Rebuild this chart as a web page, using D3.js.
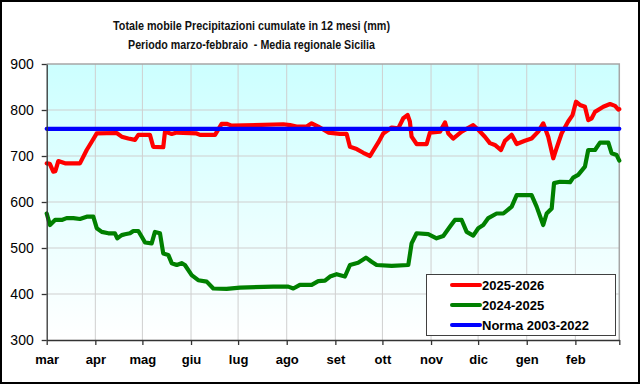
<!DOCTYPE html>
<html><head><meta charset="utf-8">
<script src="https://cdn.jsdelivr.net/npm/d3@7/dist/d3.min.js"></script>
<style>
html,body{margin:0;padding:0;background:#fff;}
svg{display:block;}
</style></head>
<body>
<svg id="chart" width="641" height="385"></svg>
<script>
// ---- data ----
const titleLines = ["Totale mobile Precipitazioni cumulate in 12 mesi (mm)", "Periodo marzo-febbraio  - Media regionale Sicilia"];
const monthLabels = ["mar","apr","mag","giu","lug","ago","set","ott","nov","dic","gen","feb",""];
const monthStartDays = [0,31,61,92,122,153,184,214,245,275,306,337,365];
const yTicks = [300,400,500,600,700,800,900];
const seriesNames = ["2025-2026","2024-2025","Norma 2003-2022"];
const seriesColors = ["#ff0000","#008000","#0000ff"];

const redDays = [0,2,4.2,5.5,7.4,11.7,21.2,25.5,28.7,31.9,44.6,47.8,52,56.3,58.4,65.8,67.9,74.3,75.4,79.7,82.9,95.6,97.7,107.3,111.5,114.7,117.9,150.8,155.1,159.3,165.7,168.9,173.1,179.5,186.9,191.2,193.3,197.6,201.8,206.1,208.2,211.3,214.5,219.9,224.1,227.3,230.1,231.5,232.6,235.8,242.2,244.3,250.7,253.9,256,259.1,264.5,271.9,275.1,279.3,282.5,285.7,289.6,292.1,296.4,299.6,304.8,309.1,313.3,316.5,319.7,322.9,324.6,328.2,332.4,335.2,337.4,339.9,343.1,345.2,347.4,349.5,354.8,359.1,362.3,364.4,365];
const redVals = [684,683,666,667,689,684,684,713,731,749,750,742,738,735,746,746,720,719,753,748,751,749,746,746,770,770,766,769,767,764,764,771,764,751,748,748,720,715,707,700,712,729,749,762,760,782,789,775,742,726,726,751,753,773,749,738,753,767,757,742,728,724,713,733,746,726,733,738,753,771,742,695,713,749,775,789,818,811,807,778,782,796,807,813,809,801,802];

const greenDays = [0,2.1,5.3,9.6,12.7,17,21.2,25.5,29.7,31.9,35.1,39.3,43.5,45,47.8,49.9,53.1,55.2,58.4,60.5,62.7,66.9,69,72.2,74.3,77.5,79.7,82.9,86,88.1,92.4,96.6,102,106.2,114.7,123.2,144.4,154,157.2,161.4,168.9,173.1,177.4,180.6,184.8,190.1,193.3,198.5,203.5,207.1,210.3,219.9,230.5,232.6,235.8,243.2,248.5,252.8,257,260.2,264.5,267.7,271.9,275.1,278.3,281.5,286.8,291.1,296.4,299.6,309.1,312.3,316.5,318.7,321.9,323.4,327.2,333.6,335.6,338.8,343.1,345.2,349.5,352.7,358,360.1,363.3,365];
const greenVals = [575,550,561,561,565,565,563,568,568,543,535,532,532,521,528,530,532,537,537,525,512,510,535,532,488,485,467,463,467,463,441,430,427,412,411,414,416,416,412,420,420,428,429,438,443,438,463,468,479,470,463,461,463,510,532,530,521,526,546,561,561,535,527,543,550,565,575,575,590,615,615,590,550,575,586,641,644,643,653,659,677,713,713,729,729,706,702,690];

const normDays = [0,365];
const normVals = [759,759];

// ---- layout ----
const svg = d3.select("#chart");
const L = 46.7, R = 619.3, T = 64, B = 340;
const x = d3.scaleLinear().domain([0,365]).range([L,R]);
const y = d3.scaleLinear().domain([300,900]).range([B,T]);

// outer frame
svg.append("rect").attr("x",1).attr("y",1).attr("width",638).attr("height",382)
  .attr("fill","#fff").attr("stroke","#000").attr("stroke-width",2);

// gradient
const defs = svg.append("defs");
const g = defs.append("linearGradient").attr("id","bg").attr("x1",0).attr("y1",0).attr("x2",0).attr("y2",1);
g.append("stop").attr("offset","0%").attr("stop-color","#ccffff");
g.append("stop").attr("offset","100%").attr("stop-color","#ffffff");
svg.append("rect").attr("x",L).attr("y",T).attr("width",R-L).attr("height",B-T).attr("fill","url(#bg)");

// grid
const grid = svg.append("g").attr("stroke","#cfcfcf").attr("stroke-width",1);
grid.selectAll("line.h").data(yTicks.slice(1,-1)).enter().append("line")
  .attr("x1",L).attr("x2",R).attr("y1",d=>y(d)).attr("y2",d=>y(d));
grid.selectAll("line.v").data(monthStartDays.slice(1,-1)).enter().append("line")
  .attr("y1",T).attr("y2",B).attr("x1",d=>x(d)).attr("x2",d=>x(d));

// plot border top/right
svg.append("path").attr("d",`M${L},${T}H${R}V${B}`).attr("fill","none").attr("stroke","#a6a6a6").attr("stroke-width",1.5);

// lines
const line = d3.line().x(d=>x(d[0])).y(d=>y(d[1]));
function series(days, vals){ return days.map((d,i)=>[d, vals[i]]); }
const data = [series(redDays,redVals), series(greenDays,greenVals), series(normDays,normVals)];
[1,0,2].forEach(i=>{
  svg.append("path").datum(data[i]).attr("d",line).attr("fill","none")
    .attr("stroke",seriesColors[i]).attr("stroke-width",4.2)
    .attr("stroke-linejoin","round").attr("stroke-linecap","round");
});

// axes
const yAxis = svg.append("g").attr("transform",`translate(${L},0)`)
  .call(d3.axisLeft(y).tickValues(yTicks).tickSize(5).tickSizeOuter(0).tickPadding(8));
yAxis.selectAll("text").attr("font-family","Liberation Sans, Arial, sans-serif").attr("font-size",14).attr("fill","#000");
const xAxis = svg.append("g").attr("transform",`translate(0,${B})`)
  .call(d3.axisBottom(x).tickValues(monthStartDays).tickSize(5).tickSizeOuter(0).tickPadding(10)
    .tickFormat((d,i)=>monthLabels[i]));
xAxis.selectAll("text").attr("font-family","Liberation Sans, Arial, sans-serif").attr("font-size",13)
  .attr("font-weight","bold").attr("fill","#000");
svg.selectAll(".domain, .tick line").attr("stroke","#333").attr("stroke-width",1.3);

// title
const tl = [{t:titleLines[0], y:29.5, w:277}, {t:titleLines[1], y:49, w:247}];
svg.selectAll("text.title").data(tl).enter().append("text").attr("class","title")
  .attr("x",251.5).attr("y",d=>d.y).attr("text-anchor","middle")
  .attr("font-family","Liberation Sans Narrow, Liberation Sans, Arial, sans-serif")
  .attr("font-weight","bold").attr("font-size",12.5).attr("fill","#111")
  .attr("textLength",d=>d.w).attr("lengthAdjust","spacingAndGlyphs")
  .style("white-space","pre")
  .text(d=>d.t);

// legend
const lg = svg.append("g");
lg.append("rect").attr("x",426.5).attr("y",274.5).attr("width",189).attr("height",61)
  .attr("fill","#fff").attr("stroke","#404040").attr("stroke-width",1);
seriesNames.forEach((n,i)=>{
  const cy = 285 + i*20;
  lg.append("line").attr("x1",452).attr("x2",480).attr("y1",cy).attr("y2",cy)
    .attr("stroke",seriesColors[i]).attr("stroke-width",4).attr("stroke-linecap","round");
  lg.append("text").attr("x",482).attr("y",cy+4.5).attr("font-family","Liberation Sans, Arial, sans-serif")
    .attr("font-size",13).attr("font-weight","bold").attr("fill","#000").text(n);
});
</script>
</body></html>
